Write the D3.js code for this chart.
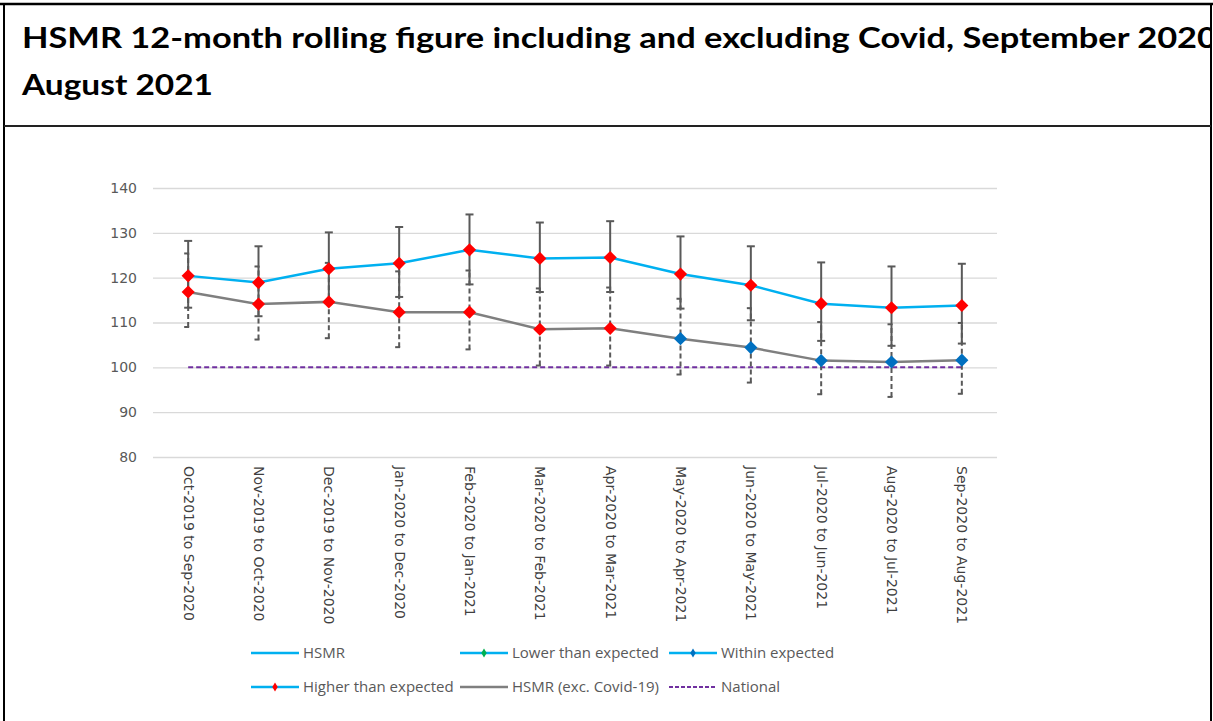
<!DOCTYPE html>
<html>
<head>
<meta charset="utf-8">
<script src="https://cdn.jsdelivr.net/npm/d3@7"></script>
<style>
  body { margin: 0; background: #fff; }
  svg { display: block; }
</style>
</head>
<body>
<script>
// rolling 12-month periods
var periods = ["Oct-2019 to Sep-2020", "Nov-2019 to Oct-2020", "Dec-2019 to Nov-2020",
  "Jan-2020 to Dec-2020", "Feb-2020 to Jan-2021", "Mar-2020 to Feb-2021",
  "Apr-2020 to Mar-2021", "May-2020 to Apr-2021", "Jun-2020 to May-2021",
  "Jul-2020 to Jun-2021", "Aug-2020 to Jul-2021", "Sep-2020 to Aug-2021"];

var hsmr      = [120.4, 118.9, 122.0, 123.2, 126.2, 124.3, 124.5, 120.8, 118.3, 114.2, 113.3, 113.8];
var hsmrUpper = [128.2, 127.0, 130.1, 131.3, 134.1, 132.3, 132.6, 129.2, 127.0, 123.4, 122.5, 123.1];
var hsmrLower = [113.3, 111.4, 114.3, 115.7, 118.5, 116.8, 116.8, 113.1, 110.5, 105.9, 104.8, 105.3];
var hsmrStatus = ["higher", "higher", "higher", "higher", "higher", "higher",
  "higher", "higher", "higher", "higher", "higher", "higher"];

var excCovid  = [116.8, 114.1, 114.6, 112.3, 112.3, 108.5, 108.7, 106.4, 104.4, 101.5, 101.2, 101.6];
var excUpper  = [125.4, 122.5, 123.3, 121.4, 121.6, 117.6, 117.8, 115.3, 113.2, 110.1, 109.6, 109.9];
var excLower  = [109.0, 106.2, 106.5, 104.5, 104.0, 100.4, 100.4,  98.4,  96.6,  94.0,  93.4,  94.1];
var excStatus = ["higher", "higher", "higher", "higher", "higher", "higher",
  "higher", "within", "within", "within", "within", "within"];

var national = 100;
var yTicks = [80, 90, 100, 110, 120, 130, 140];

var statusColor = {lower: "#00B050", within: "#0070C0", higher: "#FF0000"};

var W = 1213, H = 721;
var svg = d3.select("body").append("svg")
    .attr("width", W)
    .attr("height", H);

// frame and title
svg.append("defs").append("clipPath").attr("id", "titleclip")
  .append("rect").attr("x", 0).attr("y", 0).attr("width", 1210).attr("height", 125);

var title = svg.append("g").attr("clip-path", "url(#titleclip)")
    .style("font-family", "Lato, 'Open Sans', sans-serif")
    .style("font-weight", "bold")
    .style("font-size", "29px")
    .style("fill", "#000");
title.append("text")
    .attr("x", 22).attr("y", 48)
    .attr("textLength", 1195).attr("lengthAdjust", "spacingAndGlyphs")
    .text("HSMR 12-month rolling figure including and excluding Covid, September 2020");
title.append("text")
    .attr("x", 22).attr("y", 95)
    .attr("textLength", 191).attr("lengthAdjust", "spacingAndGlyphs")
    .text("August 2021");

svg.append("line").attr("x1", 0).attr("x2", W).attr("y1", 4).attr("y2", 4)
    .attr("stroke", "#000").attr("stroke-width", 2.5);
svg.append("line").attr("x1", 4).attr("x2", 4).attr("y1", 3).attr("y2", H)
    .attr("stroke", "#000").attr("stroke-width", 2);
svg.append("line").attr("x1", 1211).attr("x2", 1211).attr("y1", 3).attr("y2", H)
    .attr("stroke", "#000").attr("stroke-width", 2);
svg.append("line").attr("x1", 4).attr("x2", 1211).attr("y1", 126).attr("y2", 126)
    .attr("stroke", "#222").attr("stroke-width", 2);

// scales
var x_scale = d3.scalePoint().domain(periods).range([153, 997]).padding(0.5);
var y_scale = d3.scaleLinear().domain([80, 140]).range([457, 188]);

// gridlines + y labels
var y_axis = d3.axisLeft(y_scale).tickValues(yTicks).tickSize(-(997 - 153)).tickPadding(16);
var gy = svg.append("g")
    .attr("transform", "translate(153,0)")
    .call(y_axis);
gy.select(".domain").remove();
gy.selectAll(".tick line").attr("stroke", "#D9D9D9").attr("stroke-width", 1.3);
gy.selectAll(".tick text")
    .style("font-family", "'DejaVu Sans', sans-serif")
    .style("font-size", "14px")
    .attr("fill", "#595959");

// x labels (rotated)
var x_axis = d3.axisBottom(x_scale).tickSize(0).tickPadding(0);
var gx = svg.append("g")
    .attr("transform", "translate(0,466)")
    .call(x_axis);
gx.select(".domain").remove();
gx.selectAll(".tick text")
    .attr("transform", "rotate(90)")
    .attr("x", 0).attr("y", 0).attr("dy", "0.35em")
    .style("text-anchor", "start")
    .style("font-family", "'DejaVu Sans', sans-serif")
    .style("font-size", "14px")
    .attr("fill", "#404040");

// national line
svg.append("line")
    .attr("x1", x_scale(periods[0])).attr("x2", x_scale(periods[periods.length - 1]))
    .attr("y1", y_scale(national)).attr("y2", y_scale(national))
    .attr("stroke", "#7030A0").attr("stroke-width", 2)
    .attr("stroke-dasharray", "5,3");

var rows = periods.map(function(p, i) {
  return {p: p, h: hsmr[i], hu: hsmrUpper[i], hl: hsmrLower[i], hs: hsmrStatus[i],
          e: excCovid[i], eu: excUpper[i], el: excLower[i], es: excStatus[i]};
});

function errorBars(cls, lo, hi, dash) {
  var g = svg.append("g").attr("class", cls)
      .attr("stroke", "#595959").attr("stroke-width", 2)
      .attr("stroke-dasharray", dash);
  g.selectAll(".stem").data(rows).enter().append("line")
      .attr("x1", function(d) { return x_scale(d.p); })
      .attr("x2", function(d) { return x_scale(d.p); })
      .attr("y1", function(d) { return y_scale(d[lo]); })
      .attr("y2", function(d) { return y_scale(d[hi]); });
  [lo, hi].forEach(function(k) {
    g.selectAll(".cap-" + k).data(rows).enter().append("line")
        .attr("x1", function(d) { return x_scale(d.p) - 4; })
        .attr("x2", function(d) { return x_scale(d.p) + 4; })
        .attr("y1", function(d) { return y_scale(d[k]); })
        .attr("y2", function(d) { return y_scale(d[k]); });
  });
}
errorBars("exc-bars", "el", "eu", "5,3");
errorBars("hsmr-bars", "hl", "hu", null);

// lines
var exc_line = d3.line().x(function(d) { return x_scale(d.p); }).y(function(d) { return y_scale(d.e); });
var hsmr_line = d3.line().x(function(d) { return x_scale(d.p); }).y(function(d) { return y_scale(d.h); });
svg.append("path").datum(rows).attr("d", exc_line)
    .attr("fill", "none").attr("stroke", "#7F7F7F").attr("stroke-width", 2.5);
svg.append("path").datum(rows).attr("d", hsmr_line)
    .attr("fill", "none").attr("stroke", "#00B0F0").attr("stroke-width", 2.5);

// diamond markers
var diamond = d3.symbol().type(d3.symbolDiamond2).size(110);
svg.selectAll(".dot-exc").data(rows).enter().append("path")
    .attr("class", "dot-exc")
    .attr("d", diamond)
    .attr("transform", function(d) { return "translate(" + x_scale(d.p) + "," + y_scale(d.e) + ")"; })
    .style("fill", function(d) { return statusColor[d.es]; });
svg.selectAll(".dot-hsmr").data(rows).enter().append("path")
    .attr("class", "dot-hsmr")
    .attr("d", diamond)
    .attr("transform", function(d) { return "translate(" + x_scale(d.p) + "," + y_scale(d.h) + ")"; })
    .style("fill", function(d) { return statusColor[d.hs]; });

// legend
var legendItems = [
  {label: "HSMR", x: 251, y: 653, stroke: "#00B0F0", dash: null, marker: null},
  {label: "Lower than expected", x: 460, y: 653, stroke: "#00B0F0", dash: null, marker: "lower"},
  {label: "Within expected", x: 669, y: 653, stroke: "#00B0F0", dash: null, marker: "within"},
  {label: "Higher than expected", x: 251, y: 687, stroke: "#00B0F0", dash: null, marker: "higher"},
  {label: "HSMR (exc. Covid-19)", x: 460, y: 687, stroke: "#7F7F7F", dash: null, marker: null},
  {label: "National", x: 669, y: 687, stroke: "#7030A0", dash: "4,2", marker: null}
];
var small = d3.symbol().type(d3.symbolDiamond2).size(30);
var lg = svg.selectAll(".legend").data(legendItems).enter().append("g")
    .attr("class", "legend")
    .attr("transform", function(d) { return "translate(" + d.x + "," + d.y + ")"; });
lg.append("line")
    .attr("x1", 0).attr("x2", 48).attr("y1", 0).attr("y2", 0)
    .attr("stroke", function(d) { return d.stroke; })
    .attr("stroke-width", function(d) { return d.dash ? 2 : 2.5; })
    .attr("stroke-dasharray", function(d) { return d.dash; });
lg.filter(function(d) { return d.marker; }).append("path")
    .attr("d", small)
    .attr("transform", "translate(24,0) scale(0.8,1.3)")
    .style("fill", function(d) { return statusColor[d.marker]; });
lg.append("text")
    .attr("x", 52).attr("y", 0).attr("dy", "0.35em")
    .style("font-family", "'Open Sans', sans-serif")
    .style("font-size", "15px")
    .attr("fill", "#595959")
    .text(function(d) { return d.label; });
</script>
</body>
</html>
